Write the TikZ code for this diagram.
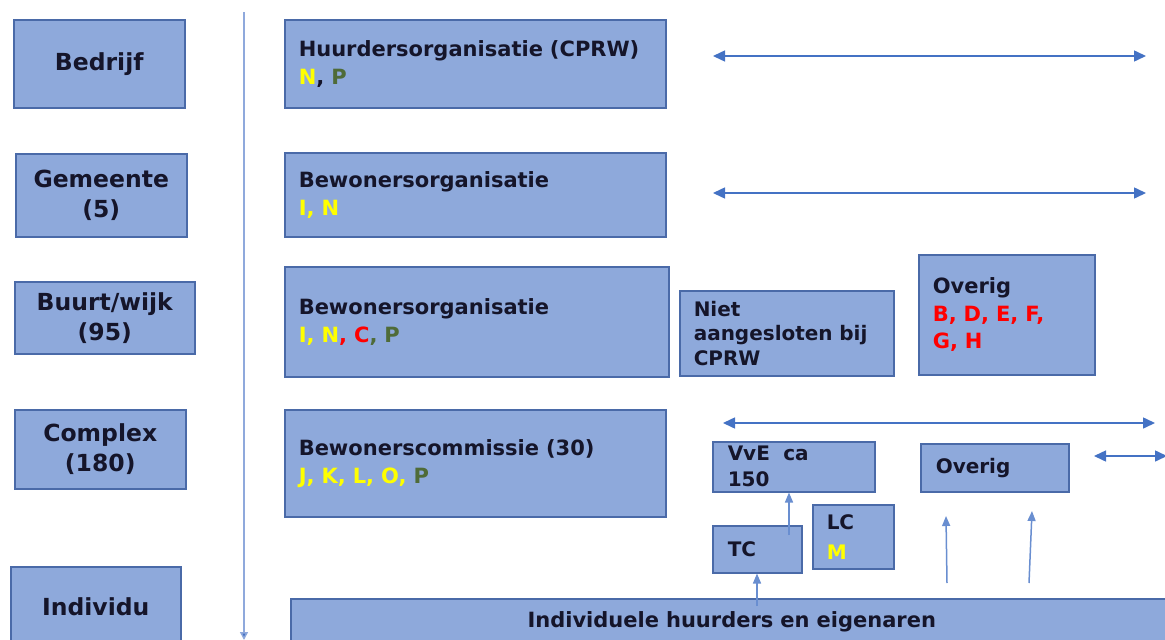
\documentclass[tikz,border=0pt]{standalone}
\usepackage{fontspec}
\setmainfont{DejaVu Sans}
\usetikzlibrary{arrows.meta}
\usetikzlibrary{positioning}
\definecolor{boxfill}{HTML}{8EA9DB}
\definecolor{boxline}{HTML}{4A6AA8}
\definecolor{arrowblue}{HTML}{4472C4}
\definecolor{axisblue}{HTML}{8FA9DC}
\definecolor{codeyellow}{HTML}{FFFF00}
\definecolor{codered}{HTML}{FF0000}
\definecolor{codegreen}{HTML}{4F6B38}
\definecolor{textnavy}{HTML}{15152A}
\newcommand{\codey}[1]{\textcolor{codeyellow}{#1}}
\newcommand{\coder}[1]{\textcolor{codered}{#1}}
\newcommand{\codeg}[1]{\textcolor{codegreen}{#1}}
\tikzstyle{level} = [rectangle, anchor=north west, fill=boxfill, draw=boxline, line width=1.5pt, align=center, text=textnavy, font=\fontsize{23.5}{30}\selectfont\bfseries]
\tikzstyle{org} = [rectangle, anchor=north west, fill=boxfill, draw=boxline, line width=1.5pt, align=left, inner xsep=14pt, text=textnavy, font=\fontsize{21}{28}\selectfont\bfseries]
\tikzstyle{link} = [draw=arrowblue, line width=1.5pt, {Triangle[length=12pt,width=11pt]}-{Triangle[length=12pt,width=11pt]}]
\tikzstyle{uplink} = [draw=arrowblue!80, line width=1.5pt, -{Triangle[length=10pt,width=8pt]}]

\begin{document}
\begin{tikzpicture}[x=1pt, y=-1pt]
  \useasboundingbox (0,0) rectangle (1165,640);

  \node (bedrijf) [level, minimum width=171pt, minimum height=88pt] at (13,19) {Bedrijf};
  \node (gemeente) [level, minimum width=171pt, minimum height=83pt] at (15,153) {Gemeente\\(5)};
  \node (buurt) [level, minimum width=180pt, minimum height=72pt] at (14,281) {Buurt/wijk\\(95)};
  \node (complex) [level, minimum width=171pt, minimum height=79pt] at (14,409) {Complex\\(180)};
  \node (individu) [level, minimum width=170pt, minimum height=80pt] at (10,566) {Individu};

  \coordinate (axistop) at (244,12);
  \coordinate (axisbottom) at (244,640);
  \draw [draw=axisblue, line width=1.5pt, -{Triangle[length=8pt,width=8pt,fill=arrowblue]}] (axistop) -- (axisbottom);

  \node (huurders) [org, minimum width=381pt, minimum height=88pt, text width=353pt] at (284,19) {Huurdersorganisatie (CPRW)\\\codey{N}, \codeg{P}};
  \node (bewgemeente) [org, minimum width=381pt, minimum height=84pt, text width=353pt] at (284,152) {Bewonersorganisatie\\\codey{I, N}};
  \node (bewbuurt) [org, minimum width=384pt, minimum height=110pt, text width=356pt] at (284,266) {Bewonersorganisatie\\\codey{I, N}\coder{, C}\codeg{, P}};
  \node (commissie) [org, minimum width=381pt, minimum height=107pt, text width=353pt] at (284,409) {Bewonerscommissie (30)\\\codey{J, K, L, O, }\codeg{P}};
  \node (niet) [org, minimum width=214pt, minimum height=85pt, text width=186pt, font=\fontsize{20}{24.5}\selectfont\bfseries] at (679,290) {Niet\\aangesloten~bij\\CPRW};
  \node (overigbuurt) [org, minimum width=176pt, minimum height=120pt, text width=148pt, font=\fontsize{21}{27.5}\selectfont\bfseries] at (918,254) {Overig\\\coder{B, D, E, F,}\\\coder{G, H}};
  \node (vve) [org, minimum width=161pt, minimum height=50pt, text width=132pt, inner xsep=15pt, inner ysep=0pt, font=\fontsize{20}{26}\selectfont\bfseries] at (712,441) {VvE\ \ ca\\150};
  \node (overigcomplex) [org, minimum width=148pt, minimum height=48pt, text width=118pt, inner xsep=15pt, font=\fontsize{20}{26}\selectfont\bfseries] at (920,443) {Overig};
  \node (tc) [org, minimum width=89pt, minimum height=47pt, text width=59pt, inner xsep=15pt, font=\fontsize{20}{26}\selectfont\bfseries] at (712,525) {TC};
  \node (lc) [org, minimum width=81pt, minimum height=64pt, text width=53pt, inner ysep=0pt, font=\fontsize{20}{30}\selectfont\bfseries] at (812,504) {LC\\\codey{M}};
  \node (individueel) [org, minimum width=882pt, minimum height=46pt, text width=854pt, align=center] at (290,598) {Individuele huurders en eigenaren};

  \coordinate (bedrijfleft) at (713,56);
  \coordinate (bedrijfright) at (1146,56);
  \coordinate (gemeenteleft) at (713,193);
  \coordinate (gemeenteright) at (1146,193);
  \coordinate (complexleft) at (723,423);
  \coordinate (complexright) at (1155,423);
  \coordinate (sideleft) at (1094,456);
  \coordinate (sideright) at (1167,456);
  \draw [link] (bedrijfleft) -- (bedrijfright);
  \draw [link] (gemeenteleft) -- (gemeenteright);
  \draw [link] (complexleft) -- (complexright);
  \draw [link] (sideleft) -- (sideright);

  \coordinate (tcfoot) at (757,606);
  \coordinate (tcinner) at (789,535);
  \coordinate (freefoota) at (947,583);
  \coordinate (freetipa) at (946,516);
  \coordinate (freefootb) at (1029,583);
  \coordinate (freetipb) at (1032,511);
  \draw [uplink] (tcfoot) -- (tcfoot |- tc.south);
  \draw [uplink] (tcinner) -- (tcinner |- vve.south);
  \draw [uplink] (freefoota) -- (freetipa);
  \draw [uplink] (freefootb) -- (freetipb);
\end{tikzpicture}
\end{document}
